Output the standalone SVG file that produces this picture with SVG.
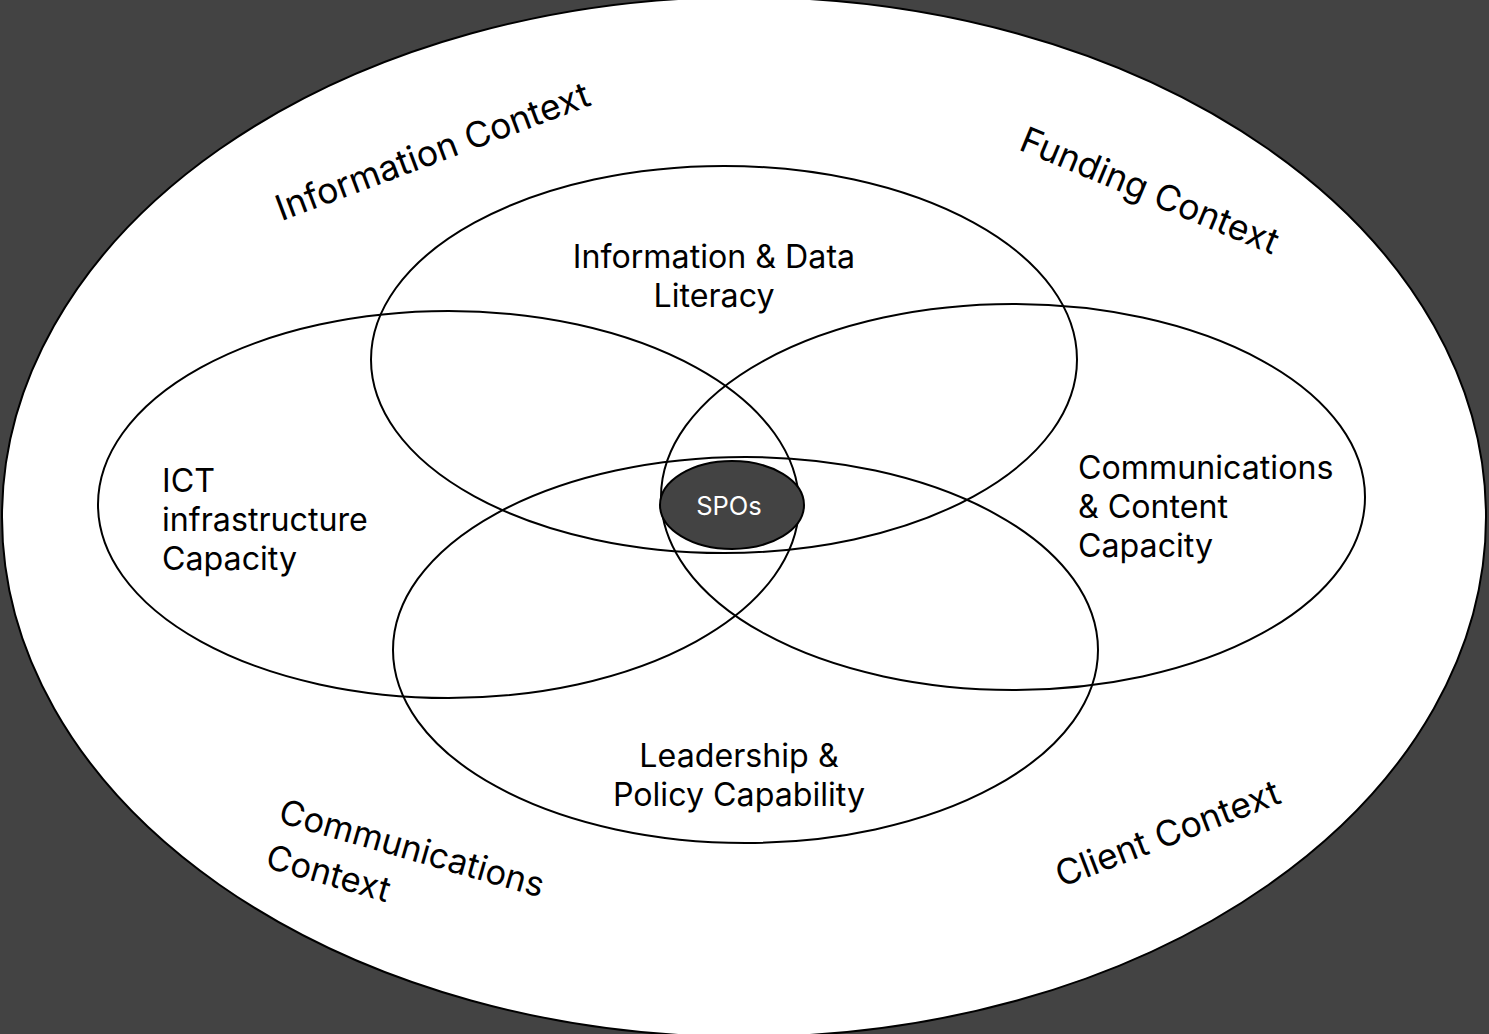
<svg xmlns="http://www.w3.org/2000/svg" width="1489" height="1034" viewBox="0 0 1489 1034">
<style>
.ring{fill:none;stroke:#000;stroke-width:2}
.lbl{font-family:Inter,"Noto Sans",sans-serif;font-size:32.2px;fill:#000}
.ctx{font-family:Inter,"Noto Sans",sans-serif;font-size:35.5px;fill:#000}
.mid{text-anchor:middle}
</style>
<rect width="1489" height="1034" fill="#434343"/>
<g id="outer">
<ellipse cx="744" cy="517" rx="742" ry="520" fill="#fff" stroke="#000" stroke-width="2"/>
</g>
<g id="contexts">
<text class="ctx mid" transform="translate(437,163) rotate(-20.5)">Information Context</text>
<text class="ctx mid" transform="translate(1145,202) rotate(22.5)">Funding Context</text>
<text class="ctx" style="font-size:34.5px" transform="translate(277,822) rotate(16)"><tspan x="0" y="0">Communications</tspan><tspan x="0" y="47">Context</tspan></text>
<text class="ctx mid" transform="translate(1172,845) rotate(-21)">Client Context</text>
</g>
<g id="info-data">
<ellipse class="ring" cx="724" cy="359.5" rx="353" ry="193.5"/>
<text class="lbl mid"><tspan x="714" y="268">Information &amp; Data</tspan><tspan x="714" y="307">Literacy</tspan></text>
</g>
<g id="ict">
<ellipse class="ring" cx="448.5" cy="504.5" rx="350.5" ry="193.5"/>
<text class="lbl"><tspan x="162" y="492">ICT</tspan><tspan x="162" y="531">infrastructure</tspan><tspan x="162" y="570">Capacity</tspan></text>
</g>
<g id="comms-content">
<ellipse class="ring" cx="1013" cy="497" rx="352" ry="193"/>
<text class="lbl"><tspan x="1078" y="479">Communications</tspan><tspan x="1078" y="518">&amp; Content</tspan><tspan x="1078" y="557">Capacity</tspan></text>
</g>
<g id="leadership">
<ellipse class="ring" cx="745.5" cy="650" rx="352.5" ry="193"/>
<text class="lbl mid"><tspan x="739" y="767">Leadership &amp;</tspan><tspan x="739" y="806">Policy Capability</tspan></text>
</g>
<g id="spos">
<ellipse cx="732" cy="505" rx="72" ry="44" fill="#434343" stroke="#000" stroke-width="2"/>
<text x="729" y="515" text-anchor="middle" font-family="Inter,'Noto Sans',sans-serif" font-size="25.5" fill="#fff">SPOs</text>
</g>
<g id="connectors"/>
</svg>
